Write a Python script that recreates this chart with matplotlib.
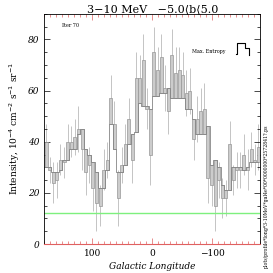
import numpy as np
import matplotlib
matplotlib.use("Agg")
import matplotlib.pyplot as plt

# bin centres in galactic longitude (6 deg bins, 180 -> -180)
lon = 177 - 6 * np.arange(60)

# max entropy model (step line)
model = [30, 30, 28, 28, 29, 33, 33, 37, 37, 43,
         45, 37, 35, 32, 28, 22, 22, 29, 47, 37,
         28, 28, 31, 39, 43, 44, 55, 54, 54, 53,
         58, 58, 59, 59, 61, 57, 57, 57, 57, 53,
         53, 49, 43, 43, 43, 46, 31, 33, 30, 23,
         21, 21, 30, 30, 30, 29, 30, 32, 32, 32]

# measured intensity
data = [40, 29, 24, 25, 33, 32, 40, 40, 42, 45,
        37, 28, 31, 22, 16, 15, 29, 33, 57, 47,
        18, 31, 39, 49, 33, 65, 65, 72, 53, 35,
        75, 68, 73, 61, 52, 74, 67, 68, 66, 59,
        60, 41, 49, 52, 53, 26, 23, 15, 25, 18,
        18, 39, 25, 29, 29, 35, 29, 37, 33, 38]

# 1 sigma errors
err = [7, 5, 8, 7, 6, 6, 7, 6, 7, 9,
       8, 9, 7, 9, 11, 8, 8, 7, 9, 9,
       11, 7, 8, 8, 9, 10, 9, 10, 8, 12,
       10, 9, 9, 9, 9, 10, 10, 9, 9, 9,
       9, 8, 9, 9, 10, 10, 8, 10, 7, 8,
       7, 9, 6, 7, 7, 8, 8, 7, 6, 9]

model = np.array(model, float)
data = np.array(data, float)
err = np.array(err, float)

plt.rcParams['font.family'] = 'DejaVu Serif'
fig = plt.figure(figsize=(2.73, 2.73), dpi=100)
ax = fig.add_axes([0.162, 0.106, 0.791, 0.843])

ax.vlines(lon, data - err, data + err, color='#b4b4b4', lw=0.55, zorder=1)
ax.bar(lon, data - model, bottom=model, width=5.0, color='#cccccc',
       edgecolor='#969696', linewidth=0.5, zorder=2)
ax.step(lon, model, where='mid', color='#858585', lw=0.6, zorder=3)
ax.axhline(12, color='#7ef07e', lw=1.0, zorder=1.5)

ax.set_xlim(180, -180)
ax.set_ylim(0, 90)
ax.set_xticks([100, 0, -100])
ax.set_xticklabels(['100', '0', '\u2212100'])
ax.set_xticks(np.arange(-180, 181, 10), minor=True)
ax.set_yticks([0, 20, 40, 60, 80])
ax.set_yticks(np.arange(0, 91, 5), minor=True)
for lab in ax.get_yticklabels():
    lab.set_fontstyle('italic')
ax.tick_params(which='both', direction='in', top=True, right=True,
               labelsize=6.5, width=0.5)
ax.tick_params(which='major', length=4)
ax.tick_params(which='minor', length=2)
ax.tick_params(axis='x', which='both', colors='#e06060', labelcolor='black')
ax.spines['bottom'].set_color('#e06060')
for s in ['top', 'left', 'right']:
    ax.spines[s].set_linewidth(0.6)

ax.set_xlabel('Galactic Longitude', fontsize=6.5, style='italic', labelpad=3)
ax.set_ylabel('Intensity, 10$^{-4}$ cm$^{-2}$ s$^{-1}$ sr$^{-1}$', fontsize=6.5, labelpad=4)
ax.set_title('3\u221210 MeV   \u22125.0\u27e8b\u27e85.0', fontsize=8, pad=1.5)

ax.text(0.082, 0.95, 'Iter 70', transform=ax.transAxes, fontsize=3.5, va='center')
ax.text(0.684, 0.835, 'Max. Entropy', transform=ax.transAxes, fontsize=3.5, va='center')
ax.plot([0.887, 0.892, 0.892, 0.929, 0.929, 0.948, 0.948],
        [0.826, 0.826, 0.874, 0.874, 0.852, 0.852, 0.822],
        transform=ax.transAxes, color='black', lw=0.8)

fig.text(0.975, 0.02, 'plots/profile*long*3-10MeV*gal4e*00*0000000*2572841?.ps',
         rotation=90, fontsize=3.3, ha='center', va='bottom')

fig.savefig('out.png', dpi=100)
